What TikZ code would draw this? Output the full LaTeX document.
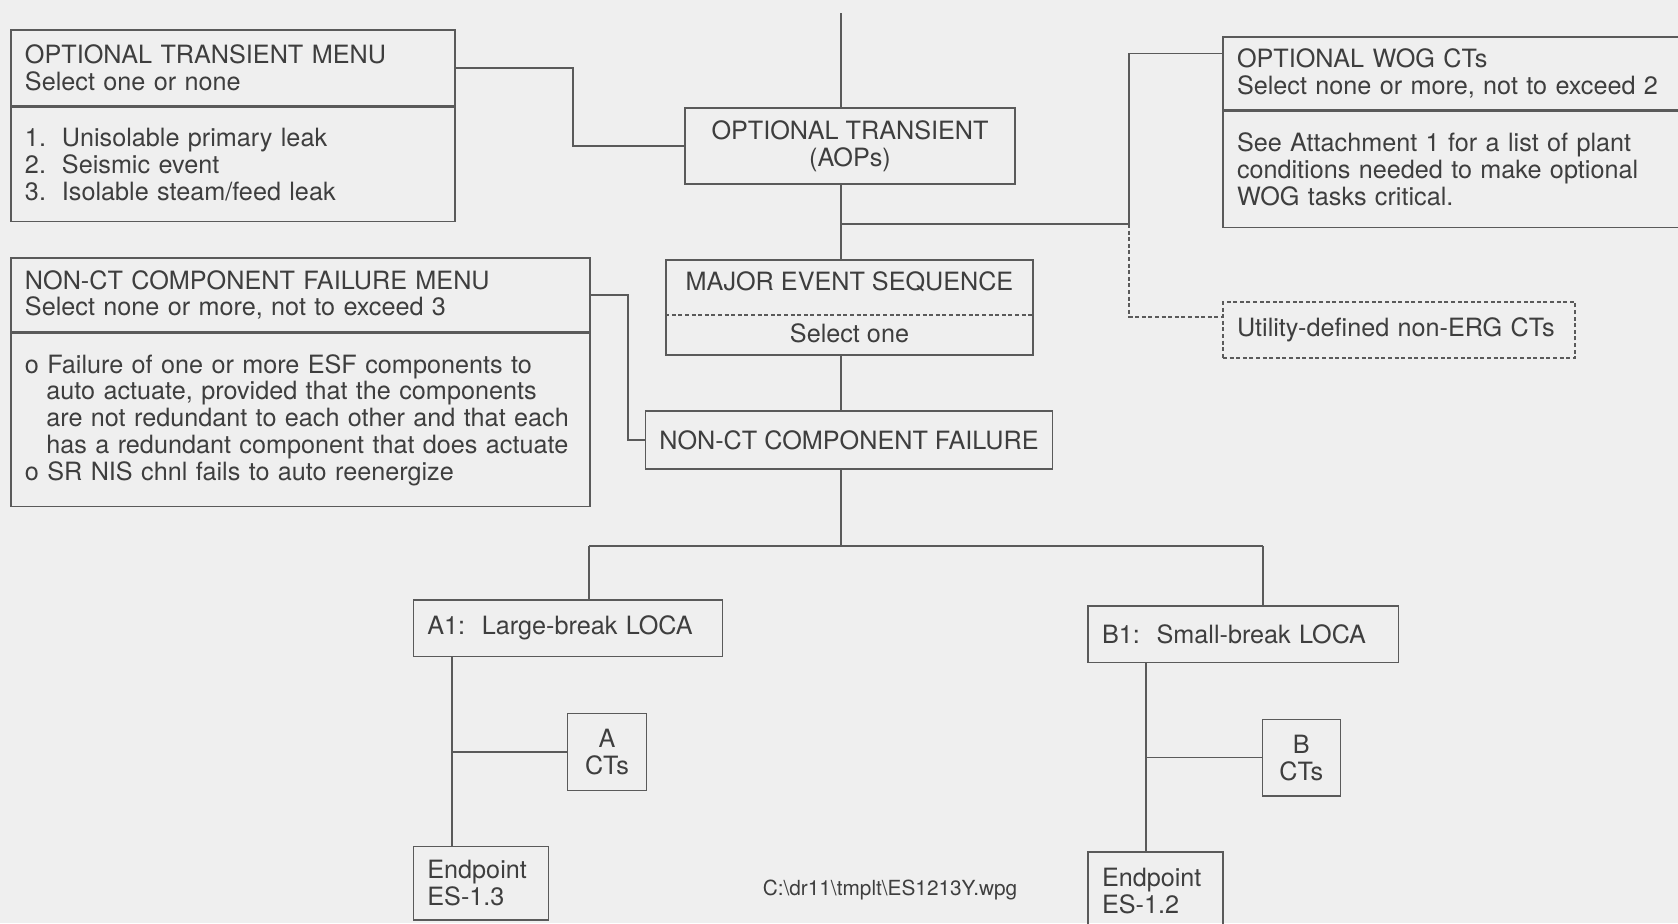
\documentclass[tikz,border=0pt]{standalone}
\usepackage{fontspec}
\setmainfont{TeX Gyre Heros}

\definecolor{scanbg}{RGB}{239,239,239}
\definecolor{ink}{RGB}{62,62,62}
\definecolor{rule}{RGB}{90,90,90}

\begin{document}
\begin{tikzpicture}[x=0.5pt, y=-0.5pt,
    every node/.style={font=\fontsize{12.6}{13.35}\selectfont, text=ink},
    box/.style={rectangle, draw=rule, line width=0.75pt, inner xsep=7pt, inner ysep=0pt},
    lbox/.style={box, align=left},
    cbox/.style={box, align=center},
    wire/.style={draw=rule, line width=0.75pt},
    dots/.style={wire, dash pattern=on 2pt off 1.3pt}]
    \useasboundingbox (0,0) rectangle (1678,923);
    \clip (0,0) rectangle (1678,923);
    \fill[scanbg] (0,0) rectangle (1678,923);

    % menus
    \draw (233,68) node[lbox, text width=208pt, minimum height=38pt] (otmenu) {OPTIONAL TRANSIENT MENU\\Select one or none};
    \draw (otmenu.south) node[lbox, anchor=north, text width=208pt, minimum height=57pt] (otlist) {\makebox[18.5pt][l]{1.}Unisolable primary leak\\\makebox[18.5pt][l]{2.}Seismic event\\\makebox[18.5pt][l]{3.}Isolable steam/feed leak};
    \draw (300.5,295) node[lbox, text width=275.5pt, minimum height=37pt] (ncthead) {NON-CT COMPONENT FAILURE MENU\\Select none or more, not to exceed 3};
    \draw (ncthead.south) node[lbox, anchor=north, text width=275.5pt, minimum height=86.5pt] (nctlist) {\mbox{o Failure of one or more ESF components to}\\\mbox{\hspace*{10.7pt}auto actuate, provided that the components}\\\mbox{\hspace*{10.7pt}are not redundant to each other and that each}\\\mbox{\hspace*{10.7pt}has a redundant component that does actuate}\\\mbox{o SR NIS chnl fails to auto reenergize}};
    \draw (1461.5,73.5) node[lbox, text width=224.5pt, minimum height=36.5pt] (woghead) {OPTIONAL WOG CTs\\Select none or more, not to exceed 2};
    \draw (woghead.south) node[lbox, anchor=north, text width=224.5pt, minimum height=58pt] (wogbody) {See Attachment 1 for a list of plant\\conditions needed to make optional\\WOG tasks critical.};
    \draw (1399,330) node[lbox, dots, text width=162pt, minimum height=28pt] (util) {Utility-defined non-ERG CTs};

    % main sequence
    \draw (850,146) node[cbox, minimum width=165pt, minimum height=38pt] (ot) {OPTIONAL TRANSIENT\\(AOPs)};
    \draw (849.5,307.5) node[cbox, minimum width=183.5pt, minimum height=47.5pt] (mes) {MAJOR EVENT SEQUENCE\\[12.5pt]Select one};
    \draw[dots] ([yshift=-3.75pt]mes.west) -- ([yshift=-3.75pt]mes.east);
    \draw (849,440) node[cbox, minimum width=203pt, minimum height=29pt] (ncf) {NON-CT COMPONENT FAILURE};

    % events
    \draw (568,628.3) node[lbox, text width=140.7pt, minimum height=28.3pt] (a1) {A1:\ \ Large-break LOCA};
    \draw (1243.2,634.3) node[lbox, text width=141.2pt, minimum height=28.3pt] (b1) {B1:\ \ Small-break LOCA};
    \draw (607,752) node[cbox, inner xsep=0pt, minimum width=39.5pt, minimum height=38.7pt] (acts) {A\\CTs};
    \draw (1301.3,757.7) node[cbox, inner xsep=0pt, minimum width=39pt, minimum height=38.3pt] (bcts) {B\\CTs};
    \draw (481,883.3) node[lbox, text width=53.6pt, minimum height=36.7pt] (ep13) {Endpoint\\ES-1.3};
    \draw (1155.5,891) node[lbox, text width=53.5pt, minimum height=39pt] (ep12) {Endpoint\\ES-1.2};
    \draw (890,890) node[font=\fontsize{10.4}{12}\selectfont] (wpg) {C:\textbackslash dr11\textbackslash tmplt\textbackslash ES1213Y.wpg};

    % connectors
    \coordinate (top) at (841,13);
    \draw[wire] (top) -- (top |- ot.north);
    \draw[wire] (top |- ot.south) -- (top |- mes.north);
    \draw[wire] (top |- mes.south) -- (top |- ncf.north);
    \draw[wire] (otmenu.east) -- ++(117,0) |- (ot.west);
    \draw[wire] (ncthead.east) -- ++(37,0) |- (ncf.west);
    \coordinate (wogjoin) at (1129,224);
    \draw[wire] (top |- wogjoin) -- (wogjoin) |- ([yshift=10pt]woghead.west);
    \draw[dots] (wogjoin) |- ([yshift=6.6pt]util.west);
    \coordinate (asplit) at (589,546);
    \coordinate (bsplit) at (1263,546);
    \draw[wire] (top |- ncf.south) -- (top |- asplit);
    \draw[wire] (asplit) -- (bsplit);
    \draw[wire] (asplit) -- (asplit |- a1.north);
    \draw[wire] (bsplit) -- (bsplit |- b1.north);
    \coordinate (aline) at (452,0);
    \draw[wire] (aline |- a1.south) -- (aline |- ep13.north);
    \draw[wire] (aline |- acts.west) -- (acts.west);
    \coordinate (bline) at (1146,0);
    \draw[wire] (bline |- b1.south) -- (bline |- ep12.north);
    \draw[wire] (bline |- bcts.west) -- (bcts.west);
\end{tikzpicture}
\end{document}
